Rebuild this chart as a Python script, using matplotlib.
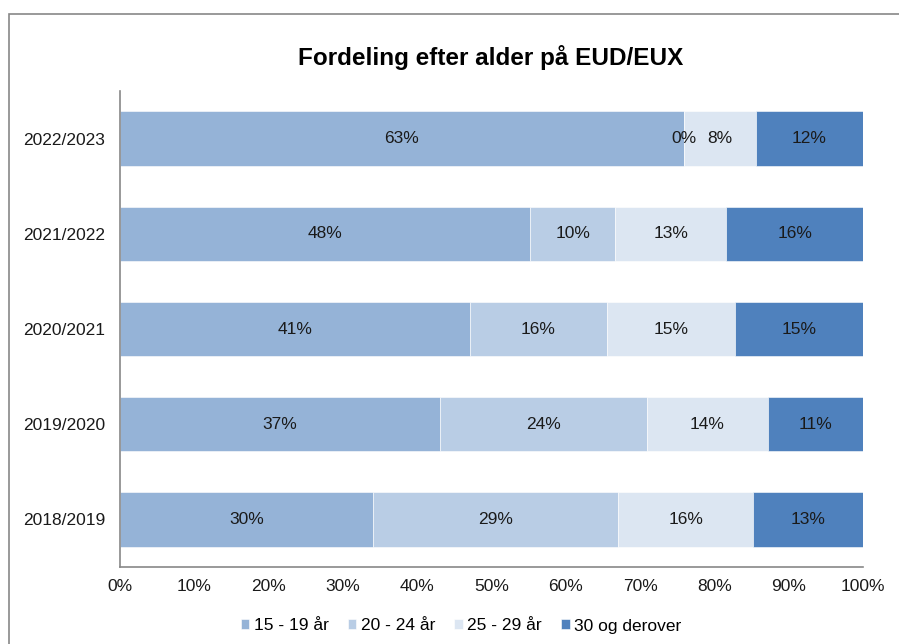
import matplotlib
matplotlib.use("Agg")
import matplotlib.pyplot as plt
import numpy as np
from matplotlib.patches import Rectangle

plt.rcParams.update({
    "font.family": ["Liberation Sans", "DejaVu Sans"],
    "font.size": 12.5,
})

# Data (labels as shown; bars are normalized to 100% per year)
years = ["2018/2019", "2019/2020", "2020/2021", "2021/2022", "2022/2023"]
groups = ["15 - 19 år", "20 - 24 år", "25 - 29 år", "30 og derover"]
age_15_19 = [30, 37, 41, 48, 63]
age_20_24 = [29, 24, 16, 10, 0]
age_25_29 = [16, 14, 15, 13, 8]
age_30_plus = [13, 11, 15, 16, 12]
colors = ["#95B3D7", "#B9CDE5", "#DCE6F2", "#4F81BD"]

series = np.array([age_15_19, age_20_24, age_25_29, age_30_plus], dtype=float)
totals = series.sum(axis=0)
shares = series / totals * 100

fig = plt.figure(figsize=(8.99, 6.44), dpi=100)
ax = fig.add_axes([120 / 899, 1 - 567 / 644, (863 - 120) / 899, (567 - 91) / 644])

# chart border
fig.patches.append(Rectangle((8.5 / 899, -0.1), 1.2, (644 - 13.5) / 644 + 0.1,
                             transform=fig.transFigure, fill=False,
                             edgecolor="#878787", linewidth=1.2))

y = np.arange(len(years))
left = np.zeros(len(years))
for i, (name, col) in enumerate(zip(groups, colors)):
    ax.barh(y, shares[i], left=left, height=0.57, color=col, label=name,
            edgecolor="white", linewidth=0.4)
    for j in range(len(years)):
        ax.text(left[j] + shares[i][j] / 2, y[j], f"{int(series[i][j])}%",
                ha="center", va="center", color="#1a1a1a", fontsize=12.5)
    left += shares[i]

ax.set_xlim(0, 100)
ax.set_ylim(-0.5, len(years) - 0.5)
ax.set_xticks(np.arange(0, 101, 10))
ax.set_xticklabels([f"{v}%" for v in range(0, 101, 10)])
ax.set_yticks(y)
ax.set_yticklabels(years)
ax.tick_params(length=0, colors="#1a1a1a")
ax.tick_params(axis="y", pad=10.5)
ax.tick_params(axis="x", pad=8.5)
for s in ["top", "right"]:
    ax.spines[s].set_visible(False)
for s in ["left", "bottom"]:
    ax.spines[s].set_color("#888888")
    ax.spines[s].set_linewidth(1.2)

fig.text(491 / 899, 1 - 57 / 644, "Fordeling efter alder på EUD/EUX",
         ha="center", va="center", fontsize=17.5, fontweight="bold")

fig.legend(loc="center", bbox_to_anchor=(461 / 899, 1 - 626 / 644), ncol=4,
           frameon=False, handlelength=0.5, handleheight=0.5,
           handletextpad=0.25, columnspacing=1.1, fontsize=12.5)

fig.savefig("out.png", dpi=100)
